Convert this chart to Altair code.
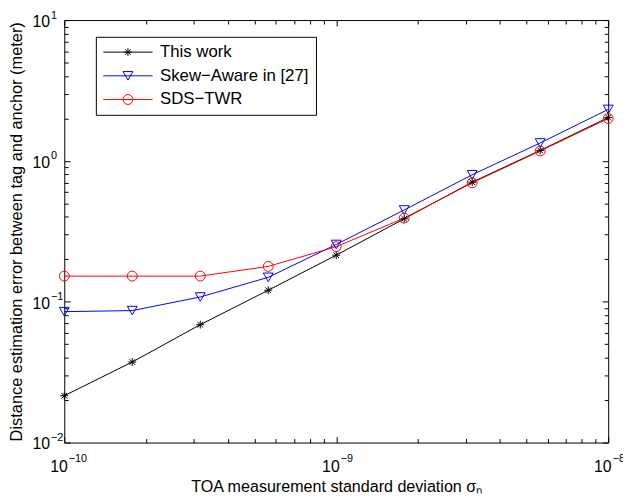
import altair as alt
import pandas as pd

# ---- data -------------------------------------------------------------
sigma = [1e-10, 1.778e-10, 3.162e-10, 5.623e-10, 1e-9, 1.778e-9, 3.162e-9, 5.623e-9, 1e-8]
this_work = [0.0215, 0.0373, 0.0687, 0.1206, 0.214, 0.388, 0.706, 1.187, 2.03]
skew_aware = [0.085, 0.0865, 0.108, 0.149, 0.255, 0.448, 0.797, 1.34, 2.32]
sds_twr = [0.152, 0.152, 0.152, 0.178, 0.246, 0.392, 0.698, 1.175, 2.0]

series_names = ["This work", "Skew\u2212Aware in [27]", "SDS\u2212TWR"]
series_colors = ["#000000", "#0000ff", "#ff0000"]

x_major = [1e-10, 1e-9, 1e-8]
x_minor = [2e-10, 3e-10, 4e-10, 5e-10, 6e-10, 7e-10, 8e-10, 9e-10,
           2e-9, 3e-9, 4e-9, 5e-9, 6e-9, 7e-9, 8e-9, 9e-9]
y_major = [1e-2, 1e-1, 1e0, 1e1]
y_minor = [0.02, 0.03, 0.04, 0.05, 0.06, 0.07, 0.08, 0.09,
           0.2, 0.3, 0.4, 0.5, 0.6, 0.7, 0.8, 0.9,
           2, 3, 4, 5, 6, 7, 8, 9]

x_title = "TOA measurement standard deviation \u03c3\u2099"
y_title = "Distance estimation error between tag and anchor (meter)"

rows = []
for name, vals in zip(series_names, [this_work, skew_aware, sds_twr]):
    for s, v in zip(sigma, vals):
        rows.append({"sigma": s, "err": v, "series": name})
df = pd.DataFrame(rows)

# ---- styling --------------------------------------------------------------
FONT = "Liberation Sans"
W, H = 551, 428

ASTERISK = "M0,-0.8L0,0.8M-0.8,0L0.8,0M-0.57,-0.57L0.57,0.57M-0.57,0.57L0.57,-0.57"
marker_shapes = [ASTERISK, "triangle-down", "circle"]

# legend symbols: line + marker (unit = 8 px for symbolSize 256)
LEG_AST = ("M-1,0L5.25,0M2.125,-0.5L2.125,0.5M1.625,0L2.625,0"
           "M1.77,-0.35L2.48,0.35M1.77,0.35L2.48,-0.35")
LEG_TRI = "M-1,0L5.25,0M1.5,-0.54L2.75,-0.54L2.125,0.54Z"
LEG_CIR = "M-1,0L5.25,0M1.5,0A0.625,0.625,0,1,0,2.75,0A0.625,0.625,0,1,0,1.5,0"
legend_paths = [LEG_AST, LEG_TRI, LEG_CIR]

xs = alt.Scale(type="log", domain=[1e-10, 1e-8], nice=False)
ys = alt.Scale(type="log", domain=[1e-2, 1e1], nice=False)
color_scale = alt.Scale(domain=series_names, range=series_colors)

EXP = ("(round(log(datum.value)/LN10) < 0 ? '\u2212' : '') + "
       "abs(round(log(datum.value)/LN10))")


def make_axis(orient, values, **kw):
    opts = dict(orient=orient, values=values, domain=False, grid=False,
                labelFlush=False, labelOverlap=False, tickColor="black",
                labelColor="black", titleColor="black", labelFont=FONT,
                titleFont=FONT, titleFontWeight="normal", tickWidth=1)
    opts.update(kw)
    return alt.Axis(**opts)


ax_bottom_digits = make_axis("bottom", x_major, tickSize=6, offset=-6,
                             labelExpr="'10'", labelAlign="right", labelOffset=3,
                             labelPadding=16, labelFontSize=16, labelBaseline="top",
                             titleFontSize=16.3, titlePadding=5)
ax_bottom_exp = make_axis("bottom", x_major, ticks=False, labelExpr=EXP,
                          labelAlign="left", labelOffset=4, labelPadding=10,
                          labelFontSize=11, labelBaseline="top")
ax_bottom_minor = make_axis("bottom", x_minor, tickSize=4, offset=-4, labels=False)
ax_top_major = make_axis("top", x_major, tickSize=6, offset=-6, labels=False)
ax_top_minor = make_axis("top", x_minor, tickSize=4, offset=-4, labels=False)

ax_left_digits = make_axis("left", y_major, tickSize=6, offset=-6,
                           labelExpr="'10'", labelAlign="right", labelBaseline="middle",
                           labelOffset=1.5, labelPadding=15, labelFontSize=16,
                           titleFontSize=16.6, titlePadding=8)
ax_left_exp = make_axis("left", y_major, ticks=False, labelExpr=EXP,
                        labelAlign="left", labelBaseline="middle", labelOffset=-5,
                        labelPadding=14, labelFontSize=11)
ax_left_minor = make_axis("left", y_minor, tickSize=4, offset=-4, labels=False)
ax_right_major = make_axis("right", y_major, tickSize=6, offset=-6, labels=False)
ax_right_minor = make_axis("right", y_minor, tickSize=4, offset=-4, labels=False)

base = alt.Chart(df)

line_layers = []
point_layers = []
for i, (name, col, shp) in enumerate(zip(series_names, series_colors, marker_shapes)):
    sub = base.transform_filter(alt.datum.series == name)
    if i == 0:
        xe = alt.X("sigma:Q", scale=xs, axis=ax_bottom_digits, title=x_title)
        ye = alt.Y("err:Q", scale=ys, axis=ax_left_digits, title=y_title)
    else:
        xe = alt.X("sigma:Q", scale=xs, axis=None)
        ye = alt.Y("err:Q", scale=ys, axis=None)
    line_layers.append(
        sub.mark_line(strokeWidth=1, color=col).encode(x=xe, y=ye, order=alt.Order("sigma:Q"))
    )
    point_layers.append(
        sub.mark_point(shape=shp, filled=False, size=100, color=col, strokeWidth=1, opacity=1)
        .encode(
            x=alt.X("sigma:Q", scale=xs, axis=None),
            y=alt.Y("err:Q", scale=ys, axis=None),
        )
    )

legend_def = alt.Legend(title=None, orient="none", legendX=32, legendY=17,
                        symbolSize=256, symbolStrokeWidth=1, labelOffset=41,
                        labelFontSize=17, labelFont=FONT, labelColor="black",
                        strokeColor="black", fillColor="white", padding=7,
                        rowPadding=6, symbolOpacity=1)

# legend-only layer: entries come from the explicit scale domains
legend_layer = base.transform_filter("false").mark_point(opacity=1, filled=False).encode(
    x=alt.X("sigma:Q", scale=xs, axis=ax_bottom_exp, title=None),
    y=alt.Y("err:Q", scale=ys, axis=ax_left_exp, title=None),
    color=alt.Color("series:N", scale=color_scale, legend=legend_def),
    shape=alt.Shape("series:N", scale=alt.Scale(domain=series_names, range=legend_paths),
                    legend=legend_def),
)

minor_layer = base.mark_point(opacity=0).encode(
    x=alt.X("sigma:Q", scale=xs, axis=ax_bottom_minor, title=None),
    y=alt.Y("err:Q", scale=ys, axis=ax_left_minor, title=None),
)
top_major_layer = base.mark_point(opacity=0).encode(
    x=alt.X("sigma:Q", scale=xs, axis=ax_top_major, title=None),
    y=alt.Y("err:Q", scale=ys, axis=ax_right_major, title=None),
)
top_minor_layer = base.mark_point(opacity=0).encode(
    x=alt.X("sigma:Q", scale=xs, axis=ax_top_minor, title=None),
    y=alt.Y("err:Q", scale=ys, axis=ax_right_minor, title=None),
)

chart = (
    alt.layer(*line_layers, legend_layer, minor_layer, top_major_layer, top_minor_layer,
              *point_layers)
    .resolve_axis(x="independent", y="independent")
    .properties(width=W, height=H, autosize=alt.AutoSizeParams(type="none"),
                padding={"left": 57, "top": 9, "right": 15, "bottom": 55},
                background="white")
    .configure_view(stroke="black", strokeWidth=1)
)

chart.save("out.html", embed_options={"renderer": "svg", "actions": False})
